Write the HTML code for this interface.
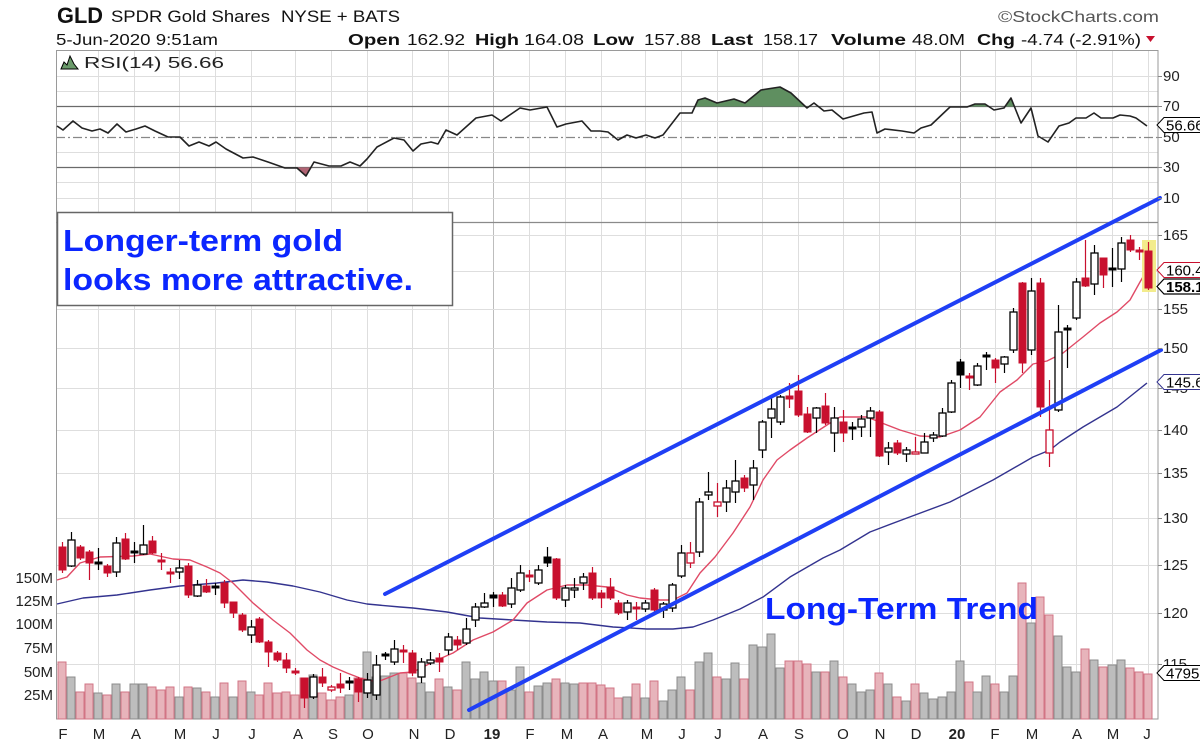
<!DOCTYPE html>
<html><head><meta charset="utf-8"><style>
html,body{margin:0;padding:0;background:#fff;}
svg{display:block;font-family:"Liberation Sans",Arial,sans-serif;}
.g{stroke:#dedede;stroke-width:1;}
.gy{stroke:#bdbdbd;stroke-width:1;}
.vp{fill:#e7b4bb;stroke:#d27484;stroke-width:1;}
.vg{fill:#bdbdbd;stroke:#8c8c8c;stroke-width:1;}
.bh{fill:#fff;stroke:#000;stroke-width:1.3;}
.bf{fill:#000;stroke:#000;stroke-width:1;}
.rh{fill:#fff;stroke:#c8102e;stroke-width:1.3;}
.rf{fill:#c8102e;stroke:#c8102e;stroke-width:1;}
.ax{font-size:15px;fill:#222;}
</style></head><body>
<svg width="1200" height="745" viewBox="0 0 1200 745" xmlns="http://www.w3.org/2000/svg">
<rect width="1200" height="745" fill="#fff"/>

<!-- Header -->
<text x="57" y="23" font-size="22" font-weight="bold" textLength="46" lengthAdjust="spacingAndGlyphs" fill="#111">GLD</text>
<text x="111" y="22" font-size="17" textLength="159" lengthAdjust="spacingAndGlyphs" fill="#111">SPDR Gold Shares</text>
<text x="281" y="22" font-size="17" textLength="119" lengthAdjust="spacingAndGlyphs" fill="#111">NYSE + BATS</text>
<text x="998" y="22" font-size="16" textLength="161" lengthAdjust="spacingAndGlyphs" fill="#555">©StockCharts.com</text>
<text x="56" y="45" font-size="16" textLength="162" lengthAdjust="spacingAndGlyphs" fill="#111">5-Jun-2020 9:51am</text>
<g font-size="16" fill="#111">
<text x="348" y="45" font-weight="bold" textLength="52" lengthAdjust="spacingAndGlyphs">Open</text>
<text x="407" y="45" textLength="58" lengthAdjust="spacingAndGlyphs">162.92</text>
<text x="475" y="45" font-weight="bold" textLength="44" lengthAdjust="spacingAndGlyphs">High</text>
<text x="524" y="45" textLength="60" lengthAdjust="spacingAndGlyphs">164.08</text>
<text x="593" y="45" font-weight="bold" textLength="41" lengthAdjust="spacingAndGlyphs">Low</text>
<text x="644" y="45" textLength="57" lengthAdjust="spacingAndGlyphs">157.88</text>
<text x="711" y="45" font-weight="bold" textLength="42" lengthAdjust="spacingAndGlyphs">Last</text>
<text x="763" y="45" textLength="55" lengthAdjust="spacingAndGlyphs">158.17</text>
<text x="831" y="45" font-weight="bold" textLength="75" lengthAdjust="spacingAndGlyphs">Volume</text>
<text x="912" y="45" textLength="53" lengthAdjust="spacingAndGlyphs">48.0M</text>
<text x="977" y="45" font-weight="bold" textLength="38" lengthAdjust="spacingAndGlyphs">Chg</text>
<text x="1021" y="45" textLength="120" lengthAdjust="spacingAndGlyphs">-4.74 (-2.91%)</text>
</g>
<polygon points="1146,36 1155,36 1150.5,42" fill="#c8102e"/>

<!-- Vertical grid -->
<g>
<path class="g" d="M98.5 50V719M134.5 50V719M179.5 50V719M215.5 50V719M251.5 50V719M295.5 50V719M331.5 50V719M367.5 50V719M412.5 50V719M448.5 50V719M529.5 50V719M565.5 50V719M601.5 50V719M645.5 50V719M681.5 50V719M717.5 50V719M762.5 50V719M798.5 50V719M843.5 50V719M879.5 50V719M915.5 50V719M995.5 50V719M1031.5 50V719M1076.5 50V719M1112.5 50V719M1148.5 50V719"/>
<path class="gy" d="M493.5 50V719M960.5 50V719"/>
</g>
<!-- RSI horizontal grid -->
<path class="g" d="M56 76.5H1158M56 91.5H1158M56 121.5H1158M56 152.5H1158M56 182.5H1158M56 198.5H1158"/>
<path d="M56 106.5H1158M56 167.5H1158" stroke="#6a6a6a" stroke-width="1.2"/>
<path d="M56 137.5H1158" stroke="#888" stroke-width="1.2" stroke-dasharray="9,3,2,3"/>
<!-- Price horizontal grid -->
<path class="g" d="M56 235.5H1158M56 271.5H1158M56 309.5H1158M56 348.5H1158M56 388.5H1158M56 430.5H1158M56 473.5H1158M56 518.5H1158M56 565.5H1158M56 613.5H1158M56 664.5H1158"/>

<!-- panel borders -->
<rect x="56.5" y="50.5" width="1101.5" height="668.5" fill="none" stroke="#9a9a9a" stroke-width="1"/>
<path d="M56 222.5H1158" stroke="#8a8a8a" stroke-width="1.3"/>

<!-- RSI fills -->
<polygon points="695,106.5 698,100 705,98 717,103 734,99 745,103 761,90 780,87 791,93 805,106.5" fill="#5f8f60" stroke="none"/>
<polygon points="970,106.5 975,104 985,104 989,106.5" fill="#5f8f60"/>
<polygon points="1005,106.5 1011,98 1014,106.5" fill="#5f8f60"/>
<polygon points="296,167.5 306,176 312,167.5" fill="#b06373"/>
<polyline fill="none" stroke="#222" stroke-width="1.6" stroke-linejoin="round" points="57,126 63,130 73,121 82,128 92,131 100,129 108,133 117,124 126,132 136,129 145,126 155,131 168,137 180,137 189,146 199,142 209,146 216,142 226,149 243,158 253,157 268,162 285,168 297,168 306,176 314,162 329,166 341,166 350,162 360,166 367,159 377,147 394,138 404,140 413,151 421,144 431,142 438,144 446,130 457,135 476,118 492,115 501,121 520,108 530,110 547,107 557,127 566,124 582,121 591,131 600,131 608,132 618,140 627,135 636,138 646,135 655,138 663,135 680,113 692,113 698,100 705,98 717,103 734,99 745,103 761,90 780,87 791,93 807,108 814,103 824,111 832,110 843,119 864,113 872,112 877,133 885,129 902,131 914,133 921,128 931,125 950,107 967,107 975,104 985,104 994,110 1004,108 1011,98 1021,123 1031,108 1038,136 1048,142 1059,126 1069,123 1076,118 1086,118 1094,113 1101,118 1113,118 1120,115 1130,116 1136,118 1147,126"/>
<polygon points="61,69 64,62 67,65 70,56 74,64 78,69" fill="#6a9a6a" stroke="#000" stroke-width="1"/>
<text x="84" y="68" font-size="16" textLength="140" lengthAdjust="spacingAndGlyphs" fill="#222">RSI(14) 56.66</text>

<!-- Volume -->
<g>
<rect class="vp" x="58" y="662" width="8" height="57"/><rect class="vg" x="67" y="677" width="8" height="42"/><rect class="vp" x="76" y="692" width="8" height="27"/><rect class="vp" x="85" y="684" width="8" height="35"/><rect class="vg" x="94" y="693" width="8" height="26"/><rect class="vp" x="103" y="695" width="8" height="24"/><rect class="vg" x="112" y="684" width="8" height="35"/><rect class="vp" x="121" y="692" width="8" height="27"/><rect class="vg" x="130" y="684" width="8" height="35"/><rect class="vg" x="139" y="684" width="8" height="35"/>
<rect class="vp" x="148" y="687" width="8" height="32"/><rect class="vp" x="157" y="690" width="8" height="29"/><rect class="vp" x="166" y="687" width="8" height="32"/><rect class="vg" x="175" y="697" width="8" height="22"/><rect class="vp" x="184" y="687" width="8" height="32"/><rect class="vg" x="193" y="688" width="8" height="31"/><rect class="vp" x="202" y="692" width="8" height="27"/><rect class="vg" x="211" y="697" width="8" height="22"/><rect class="vp" x="220" y="683" width="8" height="36"/><rect class="vg" x="229" y="697" width="8" height="22"/>
<rect class="vp" x="238" y="681" width="8" height="38"/><rect class="vg" x="247" y="692" width="8" height="27"/><rect class="vp" x="255" y="695" width="8" height="24"/><rect class="vp" x="264" y="683" width="8" height="36"/><rect class="vp" x="273" y="693" width="8" height="26"/><rect class="vp" x="282" y="692" width="8" height="27"/><rect class="vp" x="291" y="695" width="8" height="24"/><rect class="vp" x="300" y="678" width="8" height="41"/><rect class="vg" x="309" y="675" width="8" height="44"/><rect class="vp" x="318" y="693" width="8" height="26"/>
<rect class="vp" x="327" y="700" width="8" height="19"/><rect class="vp" x="336" y="697" width="8" height="22"/><rect class="vg" x="345" y="695" width="8" height="24"/><rect class="vp" x="354" y="678" width="8" height="41"/><rect class="vg" x="363" y="652" width="8" height="67"/><rect class="vg" x="372" y="677" width="8" height="42"/><rect class="vg" x="381" y="676" width="8" height="43"/><rect class="vg" x="390" y="673" width="8" height="46"/><rect class="vp" x="399" y="673" width="8" height="46"/><rect class="vp" x="408" y="678" width="8" height="41"/>
<rect class="vg" x="417" y="683" width="8" height="36"/><rect class="vg" x="426" y="692" width="8" height="27"/><rect class="vp" x="435" y="679" width="8" height="40"/><rect class="vg" x="444" y="687" width="8" height="32"/><rect class="vp" x="453" y="690" width="8" height="29"/><rect class="vg" x="462" y="662" width="8" height="57"/><rect class="vg" x="471" y="679" width="8" height="40"/><rect class="vg" x="480" y="672" width="8" height="47"/><rect class="vg" x="489" y="681" width="8" height="38"/><rect class="vp" x="498" y="681" width="8" height="38"/>
<rect class="vg" x="507" y="690" width="8" height="29"/><rect class="vg" x="516" y="667" width="8" height="52"/><rect class="vp" x="525" y="692" width="8" height="27"/><rect class="vg" x="534" y="686" width="8" height="33"/><rect class="vg" x="543" y="683" width="8" height="36"/><rect class="vp" x="552" y="679" width="8" height="40"/><rect class="vg" x="561" y="683" width="8" height="36"/><rect class="vg" x="570" y="684" width="8" height="35"/><rect class="vp" x="579" y="683" width="8" height="36"/><rect class="vp" x="588" y="683" width="8" height="36"/>
<rect class="vp" x="597" y="685" width="8" height="34"/><rect class="vp" x="606" y="688" width="8" height="31"/><rect class="vp" x="614" y="698" width="8" height="21"/><rect class="vg" x="623" y="697" width="8" height="22"/><rect class="vp" x="632" y="684" width="8" height="35"/><rect class="vg" x="641" y="698" width="8" height="21"/><rect class="vp" x="650" y="681" width="8" height="38"/><rect class="vg" x="659" y="701" width="8" height="18"/><rect class="vg" x="668" y="690" width="8" height="29"/><rect class="vg" x="677" y="677" width="8" height="42"/>
<rect class="vp" x="686" y="690" width="8" height="29"/><rect class="vg" x="695" y="662" width="8" height="57"/><rect class="vg" x="704" y="653" width="8" height="66"/><rect class="vp" x="713" y="677" width="8" height="42"/><rect class="vg" x="722" y="679" width="8" height="40"/><rect class="vg" x="731" y="663" width="8" height="56"/><rect class="vp" x="740" y="679" width="8" height="40"/><rect class="vg" x="749" y="645" width="8" height="74"/><rect class="vg" x="758" y="647" width="8" height="72"/><rect class="vg" x="767" y="634" width="8" height="85"/>
<rect class="vg" x="776" y="668" width="8" height="51"/><rect class="vp" x="785" y="661" width="8" height="58"/><rect class="vp" x="794" y="661" width="8" height="58"/><rect class="vp" x="803" y="664" width="8" height="55"/><rect class="vg" x="812" y="672" width="8" height="47"/><rect class="vp" x="821" y="672" width="8" height="47"/><rect class="vg" x="830" y="661" width="8" height="58"/><rect class="vp" x="839" y="677" width="8" height="42"/><rect class="vg" x="848" y="684" width="8" height="35"/><rect class="vg" x="857" y="692" width="8" height="27"/>
<rect class="vg" x="866" y="690" width="8" height="29"/><rect class="vp" x="875" y="673" width="8" height="46"/><rect class="vg" x="884" y="684" width="8" height="35"/><rect class="vp" x="893" y="697" width="8" height="22"/><rect class="vg" x="902" y="701" width="8" height="18"/><rect class="vp" x="911" y="684" width="8" height="35"/><rect class="vg" x="920" y="693" width="8" height="26"/><rect class="vg" x="929" y="699" width="8" height="20"/><rect class="vg" x="938" y="697" width="8" height="22"/><rect class="vg" x="947" y="692" width="8" height="27"/>
<rect class="vg" x="956" y="661" width="8" height="58"/><rect class="vp" x="965" y="682" width="8" height="37"/><rect class="vg" x="973" y="692" width="8" height="27"/><rect class="vg" x="982" y="676" width="8" height="43"/><rect class="vp" x="991" y="684" width="8" height="35"/><rect class="vg" x="1000" y="692" width="8" height="27"/><rect class="vg" x="1009" y="676" width="8" height="43"/><rect class="vp" x="1018" y="583" width="8" height="136"/><rect class="vg" x="1027" y="623" width="8" height="96"/><rect class="vp" x="1036" y="597" width="8" height="122"/>
<rect class="vp" x="1045" y="615" width="8" height="104"/><rect class="vg" x="1054" y="636" width="8" height="83"/><rect class="vg" x="1063" y="667" width="8" height="52"/><rect class="vg" x="1072" y="672" width="8" height="47"/><rect class="vp" x="1081" y="649" width="8" height="70"/><rect class="vg" x="1090" y="660" width="8" height="59"/><rect class="vp" x="1099" y="667" width="8" height="52"/><rect class="vg" x="1108" y="665" width="8" height="54"/><rect class="vg" x="1117" y="660" width="8" height="59"/><rect class="vp" x="1126" y="668" width="8" height="51"/>
<rect class="vp" x="1135" y="672" width="8" height="47"/><rect class="vp" x="1144" y="674" width="8" height="45"/>
</g>

<!-- Moving averages -->
<polyline fill="none" stroke="#33338f" stroke-width="1.4" stroke-linejoin="round" points="57,604 83,598 117,595 150,590 180,586 217,583 243,580 267,582 293,586 320,592 347,600 367,604 400,607 413,608 447,612 480,618 513,620 547,622 580,623 613,627 647,629 673,629 693,627 713,620 740,609 763,597 790,577 823,558 840,550 870,532 907,518 950,502 993,480 1033,457 1050,450 1060,442 1083,427 1117,407 1147,383"/>
<polyline fill="none" stroke="#e04a66" stroke-width="1.4" stroke-linejoin="round" points="57,580 67,577 80,563 100,557 133,556 150,554 173,559 190,560 207,567 220,573 233,583 253,603 273,620 290,633 307,650 320,660 333,667 347,673 360,678 377,682 390,677 400,673 413,672 437,660 453,653 473,640 493,632 513,620 527,603 547,590 567,585 587,585 607,587 627,595 640,598 660,600 673,600 687,593 700,573 715,557 733,533 750,507 763,480 777,460 790,450 807,438 827,425 840,417 867,417 887,425 900,430 920,436 940,437 960,430 980,417 1000,392 1017,380 1033,364 1047,361 1063,353 1083,337 1100,323 1117,312 1130,300 1140,282 1147,270"/>

<!-- highlight last candle -->
<rect x="1142" y="240" width="14" height="52" fill="#f3ec8c"/>

<!-- Wicks -->
<path fill="none" stroke="#000" stroke-width="1.2" d="M71.5 532V567M98.5 548V570M116.5 537V577M134.5 542V563M143.5 525V555M179.5 560V579M197.5 580V597M215.5 583V595M251.5 620V643M313.5 674V699M349.5 677V690M367.5 673V698M376.5 655V700M385.5 652V660M394.5 640V665M421.5 658V683M430.5 652V665M448.5 633V655M466.5 618V645M475.5 603V627M484.5 593V608M493.5 592V607M511.5 578V608M520.5 565V592M538.5 565V585M547.5 547V567M565.5 585V607M574.5 578V598M583.5 573V590M627.5 600V620M645.5 600V612M663.5 602V618M672.5 583V612M681.5 545V578M699.5 498V557M708.5 472V500M726.5 480V512M735.5 460V503M753.5 460V500M762.5 420V458M771.5 397V438M780.5 395V425M816.5 407V433M834.5 407V452M852.5 422V440M861.5 415V437M870.5 407V437M888.5 442V465M906.5 447V462M924.5 433V453M933.5 432V442M942.5 408V437M951.5 380V413M960.5 359V388M977.5 363V386M986.5 352V370M1004.5 356V373M1013.5 308V353M1031.5 278V355M1058.5 305V412M1067.5 325V368M1076.5 278V320M1094.5 245V295M1112.5 248V287M1121.5 237V282"/>
<path fill="none" stroke="#c8102e" stroke-width="1.2" d="M62.5 542V573M80.5 545V560M89.5 550V580M107.5 564V577M125.5 533V560M152.5 536V554M161.5 553V570M170.5 568V583M188.5 563V598M206.5 579V593M224.5 580V608M233.5 602V618M242.5 613V632M259.5 617V643M268.5 640V667M277.5 651V662M286.5 653V673M295.5 668V675M304.5 678V708M322.5 668V687M331.5 685V692M340.5 673V693M358.5 677V702M403.5 645V663M412.5 650V676M439.5 653V672M457.5 636V650M502.5 592V607M529.5 570V582M556.5 558V600M592.5 567V600M601.5 590V608M610.5 578V600M618.5 600V615M636.5 602V620M654.5 588V613M690.5 542V568M717.5 483V517M744.5 475V492M789.5 383V408M798.5 375V417M807.5 407V433M825.5 393V425M843.5 410V442M879.5 410V457M897.5 440V455M915.5 437V454M969.5 373V390M995.5 358V383M1022.5 282V373M1040.5 278V417M1049.5 380V467M1085.5 240V287M1103.5 258V288M1130.5 235V252M1139.5 247V260M1148.5 242V290"/>

<!-- Black hollow bodies -->
<g class="bh">
<rect x="68" y="540" width="7" height="26"/><rect x="113" y="543" width="7" height="29"/><rect x="140" y="545" width="7" height="9"/><rect x="176" y="568" width="7" height="4"/><rect x="194" y="585" width="7" height="11"/><rect x="248" y="627" width="7" height="8"/><rect x="310" y="677" width="7" height="20"/><rect x="364" y="680" width="7" height="13"/><rect x="373" y="665" width="7" height="30"/><rect x="391" y="649" width="7" height="13"/>
<rect x="418" y="662" width="7" height="15"/><rect x="427" y="660" width="7" height="3"/><rect x="445" y="637" width="7" height="13"/><rect x="463" y="629" width="7" height="14"/><rect x="472" y="607" width="7" height="13"/><rect x="481" y="603" width="7" height="4"/><rect x="508" y="588" width="7" height="16"/><rect x="517" y="573" width="7" height="17"/><rect x="535" y="570" width="7" height="13"/><rect x="562" y="588" width="7" height="12"/>
<rect x="571" y="588" width="7" height="2"/><rect x="580" y="577" width="7" height="6"/><rect x="624" y="603" width="7" height="9"/><rect x="642" y="603" width="7" height="6"/><rect x="660" y="604" width="7" height="6"/><rect x="669" y="585" width="7" height="23"/><rect x="678" y="553" width="7" height="23"/><rect x="696" y="502" width="7" height="50"/><rect x="705" y="492" width="7" height="3"/><rect x="723" y="488" width="7" height="14"/>
<rect x="732" y="481" width="7" height="11"/><rect x="750" y="468" width="7" height="17"/><rect x="759" y="422" width="7" height="28"/><rect x="768" y="409" width="7" height="9"/><rect x="777" y="397" width="7" height="25"/><rect x="813" y="408" width="7" height="10"/><rect x="831" y="418" width="7" height="15"/><rect x="858" y="419" width="7" height="8"/><rect x="867" y="411" width="7" height="7"/><rect x="885" y="448" width="7" height="4"/>
<rect x="903" y="450" width="7" height="4"/><rect x="921" y="442" width="7" height="11"/><rect x="930" y="435" width="7" height="3"/><rect x="939" y="413" width="7" height="23"/><rect x="948" y="383" width="7" height="29"/><rect x="974" y="366" width="7" height="19"/><rect x="1001" y="357" width="7" height="7"/><rect x="1010" y="312" width="7" height="38"/><rect x="1028" y="291" width="7" height="59"/><rect x="1055" y="332" width="7" height="78"/>
<rect x="1073" y="282" width="7" height="36"/><rect x="1091" y="253" width="7" height="31"/><rect x="1118" y="243" width="7" height="26"/>
</g>
<g class="bf">
<rect x="95" y="562" width="7" height="2"/><rect x="131" y="551" width="7" height="2"/><rect x="212" y="586" width="7" height="2"/><rect x="346" y="681" width="7" height="2"/><rect x="382" y="654" width="7" height="2"/><rect x="490" y="595" width="7" height="3"/><rect x="544" y="557" width="7" height="6"/><rect x="849" y="427" width="7" height="2"/><rect x="957" y="362" width="7" height="13"/><rect x="983" y="355" width="7" height="2"/><rect x="1064" y="328" width="7" height="2"/><rect x="1109" y="268" width="7" height="2"/>
</g>
<g class="rf">
<rect x="59" y="547" width="7" height="23"/><rect x="77" y="547" width="7" height="11"/><rect x="86" y="552" width="7" height="11"/><rect x="104" y="566" width="7" height="7"/><rect x="122" y="539" width="7" height="20"/><rect x="149" y="541" width="7" height="12"/><rect x="158" y="560" width="7" height="2"/><rect x="167" y="572" width="7" height="2"/><rect x="185" y="566" width="7" height="29"/><rect x="203" y="586" width="7" height="6"/>
<rect x="221" y="583" width="7" height="20"/><rect x="230" y="602" width="7" height="11"/><rect x="239" y="615" width="7" height="15"/><rect x="256" y="619" width="7" height="23"/><rect x="265" y="642" width="7" height="10"/><rect x="274" y="653" width="7" height="7"/><rect x="283" y="660" width="7" height="8"/><rect x="292" y="671" width="7" height="2"/><rect x="301" y="678" width="7" height="20"/><rect x="319" y="677" width="7" height="6"/>
<rect x="337" y="684" width="7" height="4"/><rect x="355" y="679" width="7" height="13"/><rect x="400" y="650" width="7" height="2"/><rect x="409" y="653" width="7" height="20"/><rect x="436" y="658" width="7" height="4"/><rect x="454" y="640" width="7" height="5"/><rect x="499" y="595" width="7" height="11"/><rect x="526" y="575" width="7" height="2"/><rect x="553" y="559" width="7" height="39"/><rect x="589" y="573" width="7" height="25"/>
<rect x="598" y="593" width="7" height="5"/><rect x="607" y="587" width="7" height="11"/><rect x="615" y="603" width="7" height="10"/><rect x="633" y="607" width="7" height="2"/><rect x="651" y="590" width="7" height="20"/><rect x="741" y="478" width="7" height="10"/><rect x="786" y="396" width="7" height="3"/><rect x="795" y="391" width="7" height="24"/><rect x="804" y="414" width="7" height="18"/><rect x="822" y="406" width="7" height="17"/>
<rect x="840" y="422" width="7" height="11"/><rect x="876" y="412" width="7" height="44"/><rect x="894" y="443" width="7" height="10"/><rect x="966" y="376" width="7" height="2"/><rect x="992" y="360" width="7" height="8"/><rect x="1019" y="283" width="7" height="80"/><rect x="1037" y="283" width="7" height="124"/><rect x="1082" y="278" width="7" height="8"/><rect x="1100" y="258" width="7" height="17"/><rect x="1127" y="240" width="7" height="10"/>
<rect x="1136" y="250" width="7" height="2"/><rect x="1145" y="251" width="7" height="37"/>
</g>
<g class="rh">
<rect x="328" y="687" width="7" height="3"/><rect x="687" y="553" width="7" height="10"/><rect x="714" y="502" width="7" height="4"/><rect x="912" y="452" width="7" height="2"/><rect x="1046" y="430" width="7" height="23"/>
</g>

<!-- Trend lines -->
<g stroke="#1f3ff5" stroke-width="4" stroke-linecap="round">
<line x1="385" y1="594" x2="1160" y2="198"/>
<line x1="469" y1="710" x2="1161" y2="350"/>
</g>

<!-- Annotation box -->
<rect x="57.5" y="212.5" width="395" height="93" fill="#fff" stroke="#666" stroke-width="1.5"/>
<g fill="#0b26ff" font-weight="bold" font-size="31">
<text x="63" y="251" textLength="280" lengthAdjust="spacingAndGlyphs">Longer-term gold</text>
<text x="63" y="290" textLength="350" lengthAdjust="spacingAndGlyphs">looks more attractive.</text>
<text x="765" y="619" textLength="273" lengthAdjust="spacingAndGlyphs">Long-Term Trend</text>
</g>

<!-- Right axis labels -->
<g class="ax">
<text x="1163" y="81">90</text>
<text x="1163" y="111">70</text>
<text x="1163" y="142">50</text>
<text x="1163" y="172">30</text>
<text x="1163" y="203">10</text>
<text x="1163" y="240">165</text>
<text x="1163" y="276">160</text>
<text x="1163" y="314">155</text>
<text x="1163" y="353">150</text>
<text x="1163" y="393">145</text>
<text x="1163" y="435">140</text>
<text x="1163" y="478">135</text>
<text x="1163" y="523">130</text>
<text x="1163" y="570">125</text>
<text x="1163" y="618">120</text>
<text x="1163" y="669">115</text>
</g>
<path stroke="#888" stroke-width="1" d="M1158 76.5h4M1158 106.5h4M1158 137.5h4M1158 167.5h4M1158 198.5h4M1158 235.5h4M1158 271.5h4M1158 309.5h4M1158 348.5h4M1158 388.5h4M1158 430.5h4M1158 473.5h4M1158 518.5h4M1158 565.5h4M1158 613.5h4M1158 664.5h4"/>

<!-- Tags -->
<g font-size="15">
<polygon points="1157,125 1164,117.5 1201,117.5 1201,132.5 1164,132.5" fill="#fff" stroke="#000" stroke-width="1"/>
<text x="1166" y="130.5" fill="#000">56.66</text>
<polygon points="1157,270 1164,262.5 1201,262.5 1201,277.5 1164,277.5" fill="#fff" stroke="#c8102e" stroke-width="1"/>
<text x="1166" y="275.5" fill="#000">160.44</text>
<polygon points="1157,286.5 1164,279 1201,279 1201,294 1164,294" fill="#fff" stroke="#000" stroke-width="1.2"/>
<text x="1166" y="292" fill="#000" font-weight="bold">158.17</text>
<polygon points="1157,382 1164,374.5 1201,374.5 1201,389.5 1164,389.5" fill="#fff" stroke="#33338f" stroke-width="1"/>
<text x="1166" y="387.5" fill="#000">145.62</text>
<polygon points="1157,673 1164,665.5 1201,665.5 1201,680.5 1164,680.5" fill="#fff" stroke="#000" stroke-width="1"/>
<text x="1166" y="678.5" fill="#000">47951624</text>
</g>

<!-- Left volume labels -->
<g class="ax" text-anchor="end">
<text x="53" y="583">150M</text>
<text x="53" y="606">125M</text>
<text x="53" y="629">100M</text>
<text x="53" y="653">75M</text>
<text x="53" y="677">50M</text>
<text x="53" y="700">25M</text>
</g>

<!-- X axis labels -->
<g class="ax" text-anchor="middle">
<text x="63" y="739">F</text><text x="99" y="739">M</text><text x="136" y="739">A</text><text x="180" y="739">M</text><text x="216" y="739">J</text><text x="252" y="739">J</text><text x="298" y="739">A</text><text x="333" y="739">S</text><text x="368" y="739">O</text><text x="414" y="739">N</text><text x="450" y="739">D</text>
<text x="492" y="739" font-weight="bold">19</text>
<text x="530" y="739">F</text><text x="567" y="739">M</text><text x="603" y="739">A</text><text x="647" y="739">M</text><text x="682" y="739">J</text><text x="718" y="739">J</text><text x="763" y="739">A</text><text x="799" y="739">S</text><text x="843" y="739">O</text><text x="880" y="739">N</text><text x="916" y="739">D</text>
<text x="957" y="739" font-weight="bold">20</text>
<text x="995" y="739">F</text><text x="1032" y="739">M</text><text x="1077" y="739">A</text><text x="1113" y="739">M</text><text x="1147" y="739">J</text>
</g>
</svg>
</body></html>
